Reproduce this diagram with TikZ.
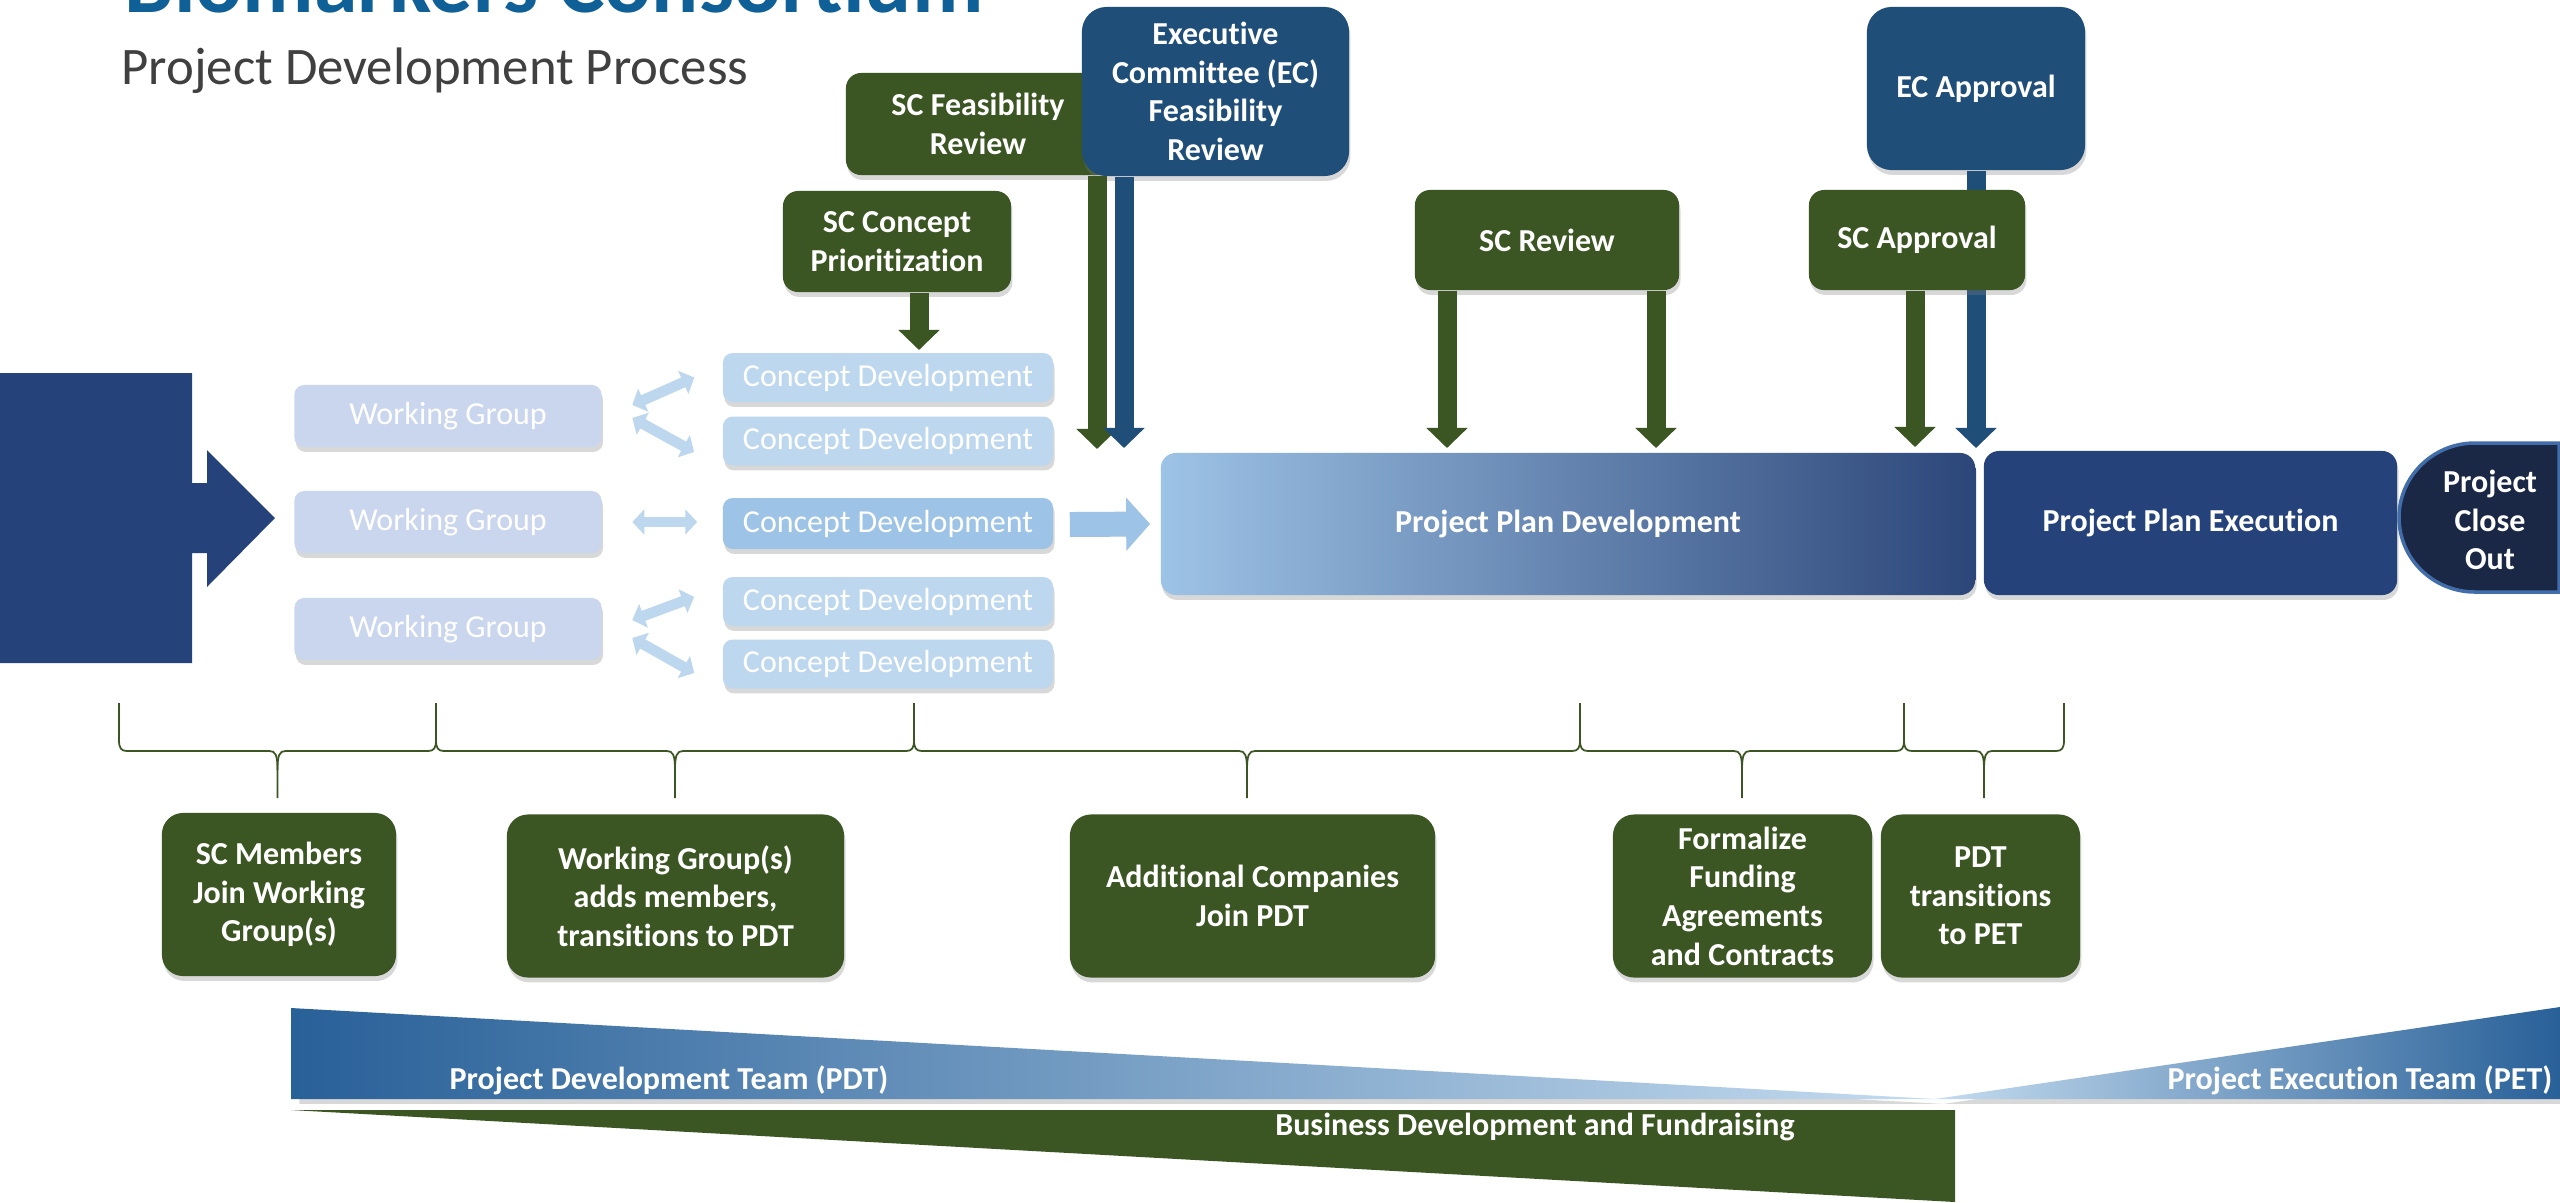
\documentclass[tikz,border=0pt]{standalone}
\usepackage{fontspec}
\setmainfont[Ligatures=NoCommon]{Carlito}
\usetikzlibrary{arrows.meta,shadows,calc}

\definecolor{scgreen}{RGB}{59,86,35}
\definecolor{ecblue}{RGB}{31,78,121}
\definecolor{flownavy}{RGB}{37,67,122}
\definecolor{closeblue}{RGB}{26,39,69}
\definecolor{closeedge}{RGB}{65,110,170}
\definecolor{wgfill}{RGB}{202,214,237}
\definecolor{cdfill}{RGB}{189,215,238}
\definecolor{cdsel}{RGB}{157,195,230}
\definecolor{planmid}{RGB}{122,139,172}
\definecolor{plandark}{RGB}{44,70,121}
\definecolor{titleblue}{RGB}{16,96,152}
\definecolor{subgray}{RGB}{64,64,64}
\definecolor{teamdark}{RGB}{40,96,152}
\definecolor{teammid}{RGB}{95,157,213}
\definecolor{teamlight}{RGB}{197,220,240}

\begin{document}
\begin{tikzpicture}[x=0.01cm, y=-0.01cm,
  box/.style={rounded corners=4.3pt, text=white, align=center, inner sep=0pt,
    font=\fontsize{9.1}{11}\selectfont\bfseries,
    drop shadow={opacity=0.3, shadow xshift=0.4pt, shadow yshift=-1.4pt}},
  scbox/.style={box, fill=scgreen},
  ecbox/.style={box, fill=ecblue, rounded corners=7pt},
  wgbox/.style={box, fill=wgfill, font=\fontsize{9.1}{11}\selectfont,
    rounded corners=2.8pt, minimum width=3.07cm, minimum height=0.62cm},
  cdbox/.style={wgbox, fill=cdfill, minimum width=3.3cm, minimum height=0.49cm},
  bottombox/.style={scbox, rounded corners=6pt, minimum height=1.63cm},
  teamtext/.style={text=white, inner sep=0pt, align=center,
    font=\fontsize{9.1}{11}\selectfont\bfseries},
  flowarrow/.style={line width=5.4pt, -{Triangle[width=11.4pt,length=5.7pt]}},
  link/.style={draw=cdfill, line width=3pt,
    {Triangle[width=7pt,length=3.4pt]}-{Triangle[width=7pt,length=3.4pt]}},
  bigarrow/.style={draw=cdsel, line width=7.1pt, -{Triangle[width=14.8pt,length=6.8pt]}},
  brace line/.style={draw=scgreen, line width=0.5pt}
]
\path[use as bounding box, fill=white] (0,0) rectangle (2560,1202);

% Heading
\node[anchor=base west, inner sep=0pt, text=titleblue,
  font=\fontsize{25}{30}\selectfont\bfseries] (TTL) at (124,12) {Biomarkers Consortium};
\node[anchor=base west, inner sep=0pt, text=subgray,
  font=\fontsize{15}{18}\selectfont] (SUB) at (121,84) {Project Development Process};

% Big entry arrow on the left
\fill[flownavy] (0,373) -- (192,373) -- (192,483) -- (207,483) -- (207,450) -- (275,518)
  -- (207,587) -- (207,553) -- (192,553) -- (192,663) -- (0,663) -- cycle;

% Review boxes at the top
\node[scbox, minimum width=2.64cm, minimum height=1.02cm] (SCF) at (978,124) {SC Feasibility\\Review};
\node[ecbox, minimum width=2.67cm, minimum height=1.69cm] (ECF) at (1215.5,91.5) {Executive\\Committee (EC)\\Feasibility\\Review};
\node[scbox, minimum width=2.28cm, minimum height=1.01cm] (SCP) at (897,241.5) {SC Concept\\Prioritization};
\node[scbox, minimum width=2.64cm, minimum height=1.0cm] (SCR) at (1547,240) {SC Review};
\node[ecbox, minimum width=2.18cm, minimum height=1.63cm] (ECA) at (1976,88.5) {EC Approval};

% Working groups and concepts
\node[wgbox] (WG1) at (448,416) {Working Group};
\node[wgbox] (WG2) at (448,522) {Working Group};
\node[wgbox] (WG3) at (448,629) {Working Group};
\node[cdbox] (CD1) at (888,377.5) {Concept Development};
\node[cdbox] (CD2) at (888,441) {Concept Development};
\node[cdbox, fill=cdsel, minimum height=0.51cm] (CD3) at (888,523.5) {Concept Development};
\node[cdbox] (CD4) at (888,601.5) {Concept Development};
\node[cdbox] (CD5) at (888,664) {Concept Development};

% Plan stages
\node[box, minimum width=8.14cm, minimum height=1.42cm, left color=cdsel,
  middle color=planmid, right color=plandark] (PPD) at (1568,524) {Project Plan Development};
\node[box, fill=flownavy, minimum width=4.13cm, minimum height=1.44cm] (PPE) at (2190.5,523) {Project Plan Execution};
\fill[closeblue, draw=closeedge, line width=1pt] (2559,443) -- (2475,443)
  .. controls (2433,443) and (2399,476.5) .. (2399,517.5)
  .. controls (2399,558.5) and (2433,592) .. (2475,592) -- (2559,592) -- cycle;
\node[teamtext] (PCO) at (2490,520) {Project\\Close\\Out};

% Arrow ends above the plan
\coordinate (cpTip) at (919,350);
\coordinate (scfTip) at (1097,449);
\coordinate (ecfTip) at (1124,448);
\coordinate (rvTipA) at (1447,448);
\coordinate (rvTipB) at (1656,448);
\coordinate (apTipA) at (1915,447);
\coordinate (apTipB) at (1976,448);

% Review arrows
\draw[flowarrow, scgreen] (cpTip |- SCP.south) -- (cpTip);
\draw[flowarrow, scgreen] (scfTip |- SCF.south) -- (scfTip);
\draw[flowarrow, ecblue] (ecfTip |- ECF.south) -- (ecfTip);
\draw[flowarrow, scgreen] (rvTipA |- SCR.south) -- (rvTipA);
\draw[flowarrow, scgreen] (rvTipB |- SCR.south) -- (rvTipB);
\draw[flowarrow, ecblue] (apTipB |- ECA.south) -- (apTipB);
\node[scbox, minimum width=2.16cm, minimum height=1.0cm] (SCA) at (1917,240) {SC Approval};
\draw[flowarrow, scgreen] (apTipA |- SCA.south) -- (apTipA);

% Links between groups and concepts
\draw[link] ($(WG1.east)+(30,-11)$) -- ($(CD1.west)+(-28,0)$);
\draw[link] ($(WG1.east)+(30,2)$) -- ($(CD2.west)+(-28,11)$);
\draw[link] ($(WG2.east)+(30,0)$) -- ($(CD3.west)+(-25,-1.5)$);
\draw[link] ($(WG3.east)+(30,-9)$) -- ($(CD4.west)+(-28,-4.5)$);
\draw[link] ($(WG3.east)+(30,9)$) -- ($(CD5.west)+(-28,9)$);
\draw[bigarrow] ($(CD3.east)+(16,1)$) -- ($(PPD.west)+(-10,0)$);

% Braces over the phases
\foreach \xa/\xb in {119/436, 436/914, 914/1580, 1580/1904, 1904/2064} {
  \pgfmathsetmacro\xm{(\xa+\xb)/2}
  \draw[brace line] (\xa,703) -- (\xa,740) .. controls (\xa,748) and (\xa+2,751) .. (\xa+8,751)
    -- (\xm-8,751) .. controls (\xm-2,751) and (\xm,755) .. (\xm,770) -- (\xm,798);
  \draw[brace line] (\xb,703) -- (\xb,740) .. controls (\xb,748) and (\xb-2,751) .. (\xb-8,751)
    -- (\xm+8,751) .. controls (\xm+2,751) and (\xm,755) .. (\xm,770);
}

% Phase boxes
\node[bottombox, minimum width=2.34cm] (SCM) at (279,894.5) {SC Members\\Join Working\\Group(s)};
\node[bottombox, minimum width=3.37cm] (WGM) at (675.5,896) {Working Group(s)\\adds members,\\transitions to PDT};
\node[bottombox, minimum width=3.65cm] (ACJ) at (1252.5,896) {Additional Companies\\Join PDT};
\node[bottombox, minimum width=2.59cm] (FFA) at (1742.5,896) {Formalize\\Funding\\Agreements\\and Contracts};
\node[bottombox, minimum width=1.99cm] (PTP) at (1980.5,896) {PDT\\transitions\\to PET};

% Team wedges
\shade[left color=teamdark, middle color=teammid, right color=teamlight,
  drop shadow={opacity=0.3, shadow yshift=-1.4pt}] (291,1008) -- (1935,1099) -- (291,1099) -- cycle;
\shade[left color=teamlight, middle color=teammid, right color=teamdark,
  drop shadow={opacity=0.3, shadow yshift=-1.4pt}] (1935,1099) -- (2560,1007) -- (2560,1099) -- cycle;
\fill[scgreen] (291,1110) -- (1955,1110) -- (1955,1202) -- cycle;
\node[teamtext] (PDT) at (669,1080) {Project Development Team (PDT)};
\node[teamtext] (PET) at (2360,1080) {Project Execution Team (PET)};
\node[teamtext] (BDF) at (1535,1127) {Business Development and Fundraising};

\end{tikzpicture}
\end{document}
